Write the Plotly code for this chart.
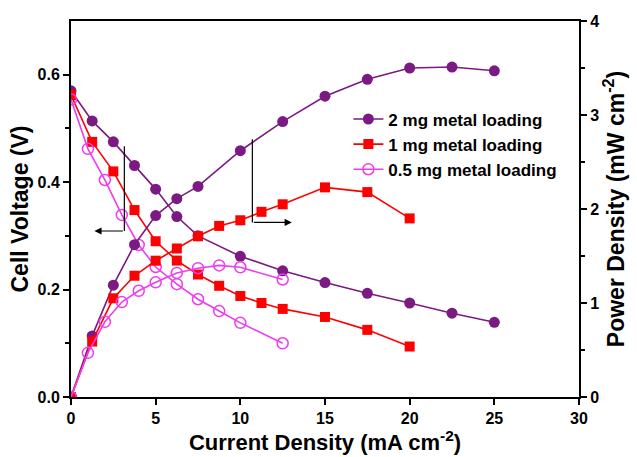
import plotly.graph_objects as go

# Data
I_2mg = [0, 1.25, 2.5, 3.75, 5, 6.25, 7.5, 10, 12.5, 15, 17.5, 20, 22.5, 25]
V_2mg = [0.570, 0.514, 0.475, 0.431, 0.387, 0.336, 0.300, 0.262, 0.235, 0.213, 0.193, 0.175, 0.156, 0.139]
P_2mg = [0, 0.65, 1.19, 1.62, 1.93, 2.11, 2.24, 2.62, 2.93, 3.20, 3.38, 3.50, 3.51, 3.47]

I_1mg = [0, 1.25, 2.5, 3.75, 5, 6.25, 7.5, 8.75, 10, 11.25, 12.5, 15, 17.5, 20]
V_1mg = [0.562, 0.475, 0.420, 0.348, 0.290, 0.254, 0.228, 0.207, 0.188, 0.175, 0.164, 0.149, 0.125, 0.094]
P_1mg = [0, 0.59, 1.05, 1.29, 1.45, 1.58, 1.71, 1.82, 1.88, 1.97, 2.05, 2.23, 2.18, 1.90]

I_05mg = [0, 1, 2, 3, 4, 5, 6.25, 7.5, 8.75, 10, 12.5]
V_05mg = [0.554, 0.462, 0.404, 0.339, 0.283, 0.242, 0.210, 0.182, 0.160, 0.138, 0.100]
P_05mg = [0, 0.47, 0.80, 1.01, 1.13, 1.22, 1.32, 1.37, 1.40, 1.38, 1.25]

labels = ["2 mg metal loading", "1 mg metal loading", "0.5 mg metal loading"]
x_ticks = [0, 5, 10, 15, 20, 25, 30]
y1_ticks = [0.0, 0.2, 0.4, 0.6]
y1_ticklabels = ["0.0", "0.2", "0.4", "0.6"]
y2_ticks = [0, 1, 2, 3, 4]

PURPLE = "#7B1A82"
RED = "#FF0000"
PINK = "#EE3CEE"

styles = [
    dict(color=PURPLE, marker=dict(symbol="circle", size=11, color=PURPLE, line=dict(width=0))),
    dict(color=RED, marker=dict(symbol="square", size=10, color=RED, line=dict(width=0))),
    dict(color=PINK, marker=dict(symbol="circle-open", size=11, color=PINK, line=dict(width=1.5))),
]

series = [(I_2mg, V_2mg, P_2mg), (I_1mg, V_1mg, P_1mg), (I_05mg, V_05mg, P_05mg)]

fig = go.Figure()
for (I, V, P), lab, st in zip(series, labels, styles):
    fig.add_trace(go.Scatter(x=I, y=V, mode="lines+markers", name=lab,
                             line=dict(color=st["color"], width=1.6),
                             marker=st["marker"], yaxis="y", legendgroup=lab))
for (I, V, P), lab, st in zip(series, labels, styles):
    fig.add_trace(go.Scatter(x=I, y=P, mode="lines+markers", name=lab, showlegend=False,
                             line=dict(color=st["color"], width=1.6),
                             marker=st["marker"], yaxis="y2", legendgroup=lab))

FONT = "Liberation Sans, Arial, sans-serif"

fig.update_layout(
    width=637, height=457,
    margin=dict(l=71, r=58, t=21, b=58),
    paper_bgcolor="white", plot_bgcolor="white",
    font=dict(family=FONT, color="black"),
    showlegend=True,
    legend=dict(x=0.546, y=0.786, xanchor="left", yanchor="top",
                bgcolor="rgba(0,0,0,0)", borderwidth=0,
                font=dict(family=FONT, size=17, color="black", weight="bold"),
                tracegroupgap=0, itemwidth=30),
    xaxis=dict(range=[0, 30], tickvals=x_ticks, ticks="outside", ticklen=6, tickwidth=2,
               tickcolor="black", showline=True, linewidth=2, linecolor="black", mirror=True,
               showgrid=False, zeroline=False,
               tickfont=dict(family=FONT, size=16, weight="bold"),
               title=dict(text="Current Density (mA cm<sup>-2</sup>)", standoff=2,
                          font=dict(family=FONT, size=22, weight="bold"))),
    yaxis=dict(range=[0, 0.7], tickvals=y1_ticks, ticktext=y1_ticklabels, ticks="outside",
               ticklen=6, tickwidth=2, tickcolor="black",
               minor=dict(tickvals=[0.1, 0.3, 0.5], ticks="outside", ticklen=4, tickwidth=2, tickcolor="black"),
               showline=True, linewidth=2, linecolor="black",
               showgrid=False, zeroline=False,
               tickfont=dict(family=FONT, size=16, weight="bold"),
               title=dict(text="Cell Voltage (V)", standoff=2,
                          font=dict(family=FONT, size=23, weight="bold"))),
    yaxis2=dict(range=[0, 4], tickvals=y2_ticks, overlaying="y", side="right", ticks="outside",
                ticklen=6, tickwidth=2, tickcolor="black",
                minor=dict(tickvals=[0.5, 1.5, 2.5, 3.5], ticks="outside", ticklen=4, tickwidth=2, tickcolor="black"),
                showline=True, linewidth=2, linecolor="black",
                showgrid=False, zeroline=False,
                tickfont=dict(family=FONT, size=16, weight="bold"),
                title=dict(text="Power Density (mW cm<sup>-2</sup>)", standoff=4,
                           font=dict(family=FONT, size=23, weight="bold"))),
)

# Arrows indicating which axis each group refers to
fig.add_shape(type="line", xref="x", yref="y", x0=3.15, x1=3.15, y0=0.467, y1=0.309,
              line=dict(color="black", width=1.2))
fig.add_annotation(xref="x", yref="y", axref="x", ayref="y", x=1.38, y=0.309, ax=3.15, ay=0.309,
                   text="", showarrow=True, arrowhead=2, arrowsize=1.2, arrowwidth=1.2, arrowcolor="black")
fig.add_shape(type="line", xref="x", yref="y", x0=10.71, x1=10.71, y0=0.480, y1=0.325,
              line=dict(color="black", width=1.2))
fig.add_annotation(xref="x", yref="y", axref="x", ayref="y", x=13.04, y=0.325, ax=10.71, ay=0.325,
                   text="", showarrow=True, arrowhead=2, arrowsize=1.2, arrowwidth=1.2, arrowcolor="black")

fig.write_html("out.html")
